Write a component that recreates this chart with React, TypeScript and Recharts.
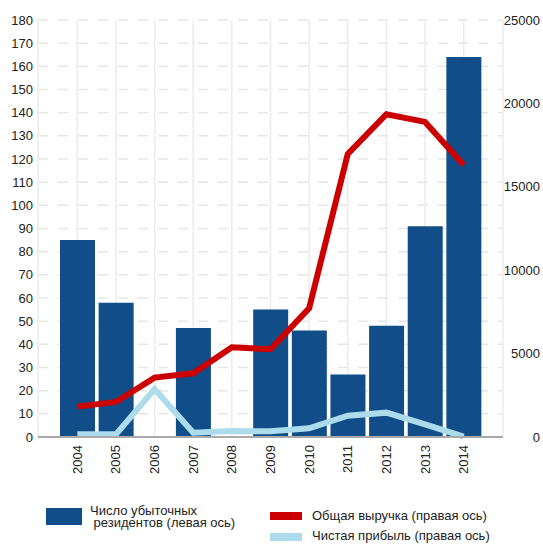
import React from "react";
import {
  ComposedChart,
  Bar,
  Line,
  XAxis,
  YAxis,
  CartesianGrid,
  Legend,
} from "recharts";

const years = ["2004", "2005", "2006", "2007", "2008", "2009", "2010", "2011", "2012", "2013", "2014"];
// число убыточных резидентов (левая ось)
const lossMakers = [85, 58, 0, 47, 0, 55, 46, 27, 48, 91, 164];
// общая выручка (правая ось)
const revenue = [1820, 2100, 3560, 3820, 5380, 5260, 7720, 16970, 19350, 18890, 16310];
// чистая прибыль (правая ось)
const profit = [160, 160, 2880, 260, 360, 340, 520, 1280, 1460, 760, 20];

const leftTicks = [0, 10, 20, 30, 40, 50, 60, 70, 80, 90, 100, 110, 120, 130, 140, 150, 160, 170, 180];
const rightTicks = [0, 5000, 10000, 15000, 20000, 25000];

const data = years.map((year, i) => ({
  year,
  lossMakers: lossMakers[i],
  revenue: revenue[i],
  profit: profit[i],
}));

const FONT = "'Liberation Sans', Arial, sans-serif";
const BLUE = "#114d88";
const RED = "#cc0000";
const LIGHT = "#acdcec";

const XTick = (props: any) => {
  const { x, y, payload } = props;
  return (
    <text
      x={x}
      y={y}
      transform={`rotate(-90 ${x} ${y})`}
      textAnchor="end"
      dominantBaseline="central"
      fontSize={13}
      fill="#222"
      fontFamily={FONT}
    >
      {payload.value}
    </text>
  );
};

const RightTick = (props: any) => {
  const { x, y, payload } = props;
  return (
    <text x={x + 37} y={y} textAnchor="end" dominantBaseline="central" fontSize={13} fill="#222" fontFamily={FONT}>
      {payload.value}
    </text>
  );
};

const LegendBox = () => (
  <div style={{ position: "relative", width: 543, height: 60, fontFamily: FONT, fontSize: 13, color: "#222" }}>
    <div style={{ position: "absolute", left: 46, top: 24, width: 36, height: 17, background: BLUE }} />
    <div style={{ position: "absolute", left: 90, top: 21, lineHeight: "12px", whiteSpace: "pre" }}>
      {"Число убыточных\n резидентов (левая ось)"}
    </div>
    <div style={{ position: "absolute", left: 270, top: 28, width: 32, height: 8, background: RED }} />
    <div style={{ position: "absolute", left: 312, top: 25, lineHeight: "14px", whiteSpace: "pre" }}>
      Общая выручка (правая ось)
    </div>
    <div style={{ position: "absolute", left: 270, top: 49, width: 32, height: 8, background: LIGHT }} />
    <div style={{ position: "absolute", left: 312, top: 45, lineHeight: "14px", whiteSpace: "pre" }}>
      Чистая прибыль (правая ось)
    </div>
  </div>
);

export default function App() {
  return (
    <div style={{ position: "absolute", left: 0, top: 0, fontFamily: FONT }}>
      <ComposedChart width={543} height={544} data={data} margin={{ top: 20, right: 0, bottom: 0, left: 0 }}>
        <CartesianGrid yAxisId="left" vertical={false} stroke="#e6e6e6" strokeWidth={1.5} strokeDasharray="10 10" />
        <CartesianGrid yAxisId="left" horizontal={false} stroke="#ebebeb" strokeWidth={1.5} />
        <XAxis
          dataKey="year"
          padding={{ left: 20, right: 20 }}
          height={47}
          tickLine={false}
          axisLine={{ stroke: "#aaaaaa", strokeWidth: 2 }}
          tick={<XTick />}
          interval={0}
        />
        <YAxis
          yAxisId="left"
          orientation="left"
          width={38}
          domain={[0, 180]}
          ticks={leftTicks}
          interval={0}
          axisLine={false}
          tickLine={false}
          tickSize={5}
          tickMargin={0}
          tick={{ fontSize: 13, fill: "#222", fontFamily: FONT }}
        />
        <YAxis
          yAxisId="right"
          orientation="right"
          width={40}
          domain={[0, 25000]}
          ticks={rightTicks}
          interval={0}
          axisLine={false}
          tickLine={false}
          tickSize={0}
          tickMargin={0}
          tick={<RightTick />}
        />
        <Bar yAxisId="left" dataKey="lossMakers" fill={BLUE} barSize={35} isAnimationActive={false} />
        <Line
          yAxisId="right"
          dataKey="profit"
          type="linear"
          stroke={LIGHT}
          strokeWidth={6}
          dot={false}
          activeDot={false}
          isAnimationActive={false}
        />
        <Line
          yAxisId="right"
          dataKey="revenue"
          type="linear"
          stroke={RED}
          strokeWidth={6}
          dot={false}
          activeDot={false}
          isAnimationActive={false}
        />
        <Legend
          verticalAlign="bottom"
          content={<LegendBox />}
          wrapperStyle={{ left: 0, top: 484, width: 543, height: 60 }}
        />
      </ComposedChart>
    </div>
  );
}
